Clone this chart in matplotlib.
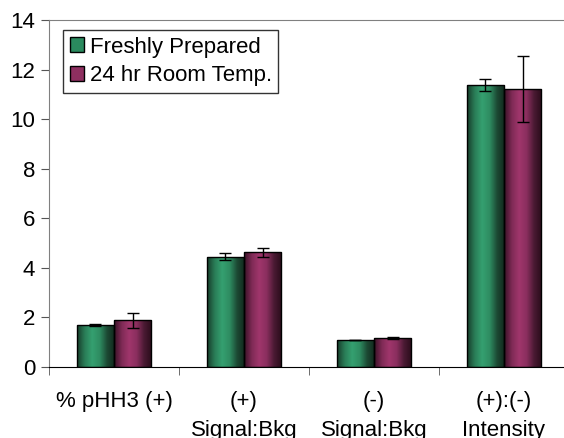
#!/usr/bin/env python3

import numpy as np
import matplotlib
matplotlib.use('Agg')
import matplotlib.pyplot as plt
from matplotlib.colors import LinearSegmentedColormap

plt.rcParams['font.family'] = ['Liberation Sans', 'DejaVu Sans']

categories = ['% pHH3 (+)', '(+)\nSignal:Bkg', '(-)\nSignal:Bkg', '(+):(-)\nIntensity']
series_names = ['Freshly Prepared', '24 hr Room Temp.']
fresh = [1.69, 4.45, 1.07, 11.38]
fresh_err = [0.05, 0.15, 0.0, 0.23]
room = [1.88, 4.62, 1.16, 11.22]
room_err = [0.30, 0.20, 0.04, 1.32]
yticks = [0, 2, 4, 6, 8, 10, 12, 14]

shades = {
    'green': ['#173d2b', '#2a7d57', '#35a070', '#2e8c61', '#1c4a34', '#12291d'],
    'maroon': ['#3a1327', '#7e2a55', '#a0366c', '#8a2e5e', '#4a1a33', '#2a0c1a'],
}
solid = {'green': '#2a8a5e', 'maroon': '#8e2f60'}


def draw_bars(ax, xs, heights, errs, key, width):
    cmap = LinearSegmentedColormap.from_list(key, shades[key])
    grad = np.linspace(0, 1, 64).reshape(1, -1)
    bars = ax.bar(xs, heights, width, color='none', edgecolor='black',
                  linewidth=1.0, zorder=3)
    for b in bars:
        x0, y0 = b.get_x(), b.get_y()
        im = ax.imshow(grad, cmap=cmap, aspect='auto', zorder=2,
                       extent=[x0, x0 + b.get_width(), y0, y0 + b.get_height()],
                       interpolation='bilinear')
        im.set_clip_path(b)
    ax.errorbar(xs, heights, yerr=errs, fmt='none', ecolor='black',
                elinewidth=1.0, capsize=4, capthick=1.0, zorder=4)
    return bars


fig = plt.figure(figsize=(5.64, 4.38), dpi=100)
ax = fig.add_axes([49 / 564, 71 / 438, 520 / 564, 347 / 438])

centers = np.arange(len(categories)) + 0.5
w = 0.288
draw_bars(ax, centers - w / 2, fresh, fresh_err, 'green', w)
draw_bars(ax, centers + w / 2, room, room_err, 'maroon', w)

ax.set_xlim(0, len(categories))
ax.set_ylim(0, 14)
ax.set_yticks(yticks)
ax.set_yticklabels([str(t) for t in yticks], fontsize=16)
ax.set_xticks(centers)
ax.set_xticklabels(categories, fontsize=16, linespacing=1.55)
ax.set_xticks(np.arange(len(categories) + 1), minor=True)
ax.tick_params(axis='x', which='major', length=0, pad=17)
ax.tick_params(axis='x', which='minor', length=6, direction='out',
               color='#555555')
ax.tick_params(axis='y', length=6, direction='out', color='#555555', pad=4)

for side in ['top', 'right']:
    ax.spines[side].set_color('#808080')
ax.spines['left'].set_color('#808080')
ax.spines['bottom'].set_color('black')

handles = [plt.Rectangle((0, 0), 1, 1, facecolor=solid['green'], edgecolor='black'),
           plt.Rectangle((0, 0), 1, 1, facecolor=solid['maroon'], edgecolor='black')]
leg = ax.legend(handles, series_names, loc='upper left',
                bbox_to_anchor=(14 / 520, 1 - 10 / 347), fontsize=16,
                frameon=True, fancybox=False, handlelength=0.65,
                handleheight=0.65, handletextpad=0.25, borderpad=0.3,
                labelspacing=0.35, borderaxespad=0)
leg.get_frame().set_edgecolor('black')
leg.get_frame().set_linewidth(1.0)

fig.savefig('out.png', dpi=100)
